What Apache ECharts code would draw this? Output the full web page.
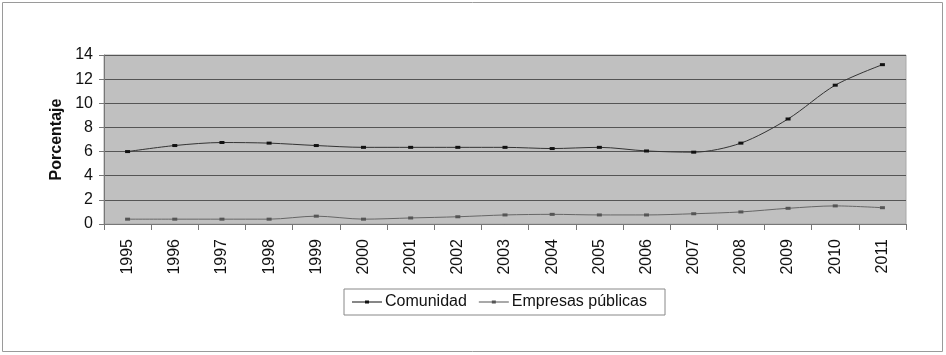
<!DOCTYPE html>
<html><head><meta charset="utf-8">
<script src="https://cdn.jsdelivr.net/npm/echarts@6/dist/echarts.min.js"></script>
<style>html,body{margin:0;padding:0;background:#fff}#c{width:946px;height:355px}</style>
</head><body><div id="c"></div>
<script>
const years = ['1995','1996','1997','1998','1999','2000','2001','2002','2003','2004','2005','2006','2007','2008','2009','2010','2011'];
const comunidad = [6.0,6.5,6.75,6.7,6.5,6.35,6.35,6.35,6.35,6.25,6.35,6.05,5.95,6.7,8.7,11.5,13.2];
const empresas = [0.4,0.4,0.4,0.4,0.65,0.4,0.5,0.6,0.75,0.8,0.75,0.75,0.85,1.0,1.3,1.5,1.35];
const yTicks = {min:0,max:14,interval:2};
const legIcon = 'path://M0,4.5L30,4.5L30,5.5L0,5.5Z M13,3.5L17,3.5L17,6.5L13,6.5Z';
const chart = echarts.init(document.getElementById('c'));
chart.setOption({
  animation:false,
  graphic:[{type:'rect',shape:{x:2.5,y:2.5,width:940,height:349},style:{fill:'none',stroke:'#9a9a9a',lineWidth:1}},
           {type:'rect',shape:{x:104,y:55,width:802,height:169},z:-1,style:{fill:'#c0c0c0',stroke:'#a8a8a8'}}],
  grid:{left:104,right:40,top:55,bottom:131,containLabel:false},
  legend:{top:289,left:344,itemWidth:30,itemHeight:10,itemGap:12,
    borderColor:'#888',borderWidth:1,padding:[5,18,5,8],
    textStyle:{fontFamily:'Liberation Sans, Arial',fontSize:16,color:'#111',padding:[0,0,0,-2]},
    data:[{name:'Comunidad',icon:legIcon},{name:'Empresas públicas',icon:legIcon}]},
  xAxis:{type:'category',data:years,boundaryGap:true,
    axisLine:{lineStyle:{color:'#777'}},axisTick:{show:true,lineStyle:{color:'#777'},length:6},
    axisLabel:{rotate:90,fontFamily:'Liberation Sans, Arial',fontSize:16,color:'#111',margin:15}},
  yAxis:{type:'value',min:yTicks.min,max:yTicks.max,interval:yTicks.interval,
    name:'Porcentaje',nameLocation:'middle',nameGap:39,
    nameTextStyle:{fontFamily:'Liberation Sans, Arial',fontSize:16,fontWeight:'bold',color:'#111'},
    axisLine:{show:true,lineStyle:{color:'#777'}},axisTick:{show:true,length:5,lineStyle:{color:'#777'}},
    splitLine:{lineStyle:{color:'#555',width:1}},
    axisLabel:{fontFamily:'Liberation Sans, Arial',fontSize:16,color:'#111',margin:11}},
  series:[
    {name:'Comunidad',type:'line',data:comunidad,smooth:0.3,symbol:'rect',symbolSize:[5,3],
      lineStyle:{color:'#333',width:1},itemStyle:{color:'#111'}},
    {name:'Empresas públicas',type:'line',data:empresas,smooth:0.3,symbol:'rect',symbolSize:[5,3],
      lineStyle:{color:'#666',width:1},itemStyle:{color:'#555'}}
  ]
});
</script></body></html>
